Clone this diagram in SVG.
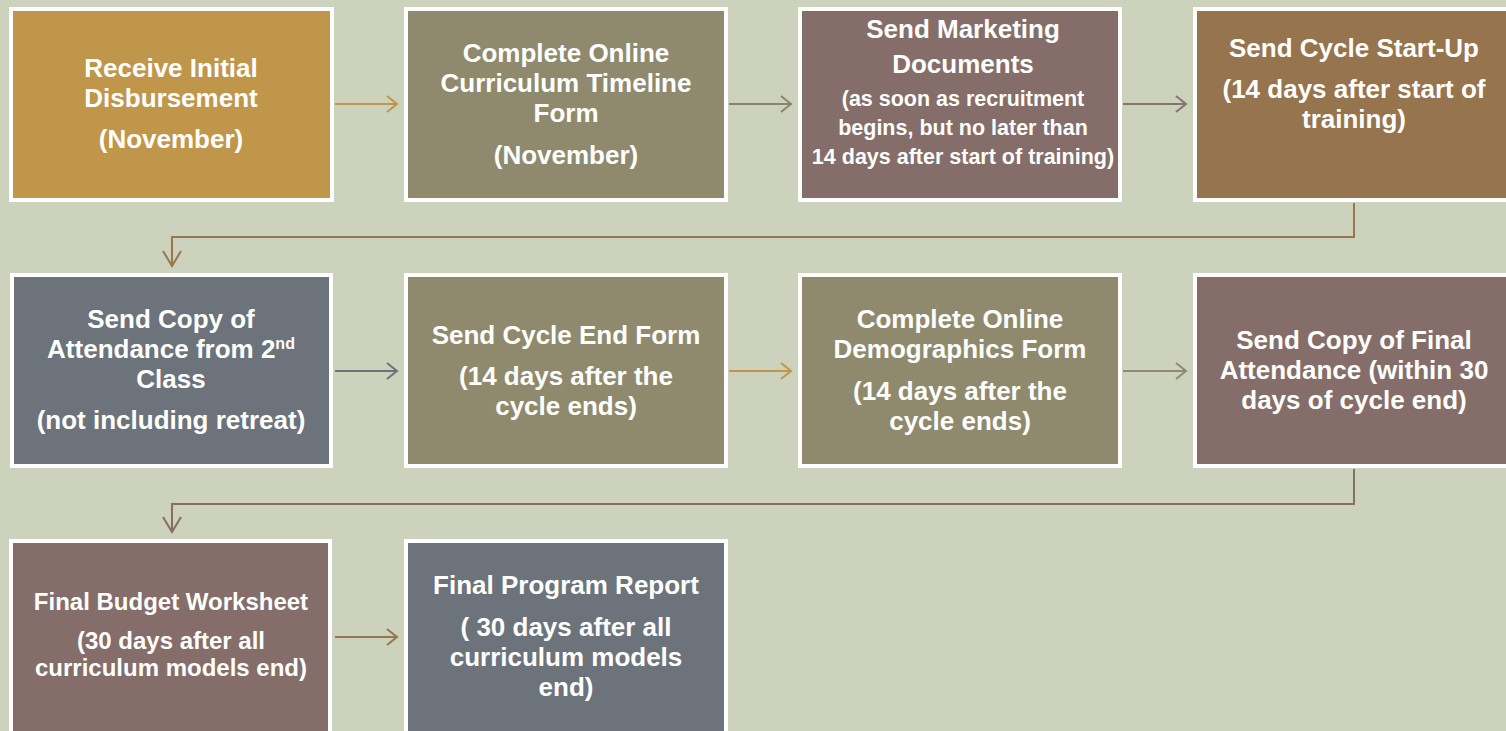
<svg xmlns="http://www.w3.org/2000/svg" width="1506" height="731" viewBox="0 0 1506 731">
<defs>
<style>
.box{stroke:#ffffff;stroke-width:4}
.t{font-family:"Liberation Sans",Arial,sans-serif;font-weight:bold;fill:#ffffff;text-anchor:middle;font-size:26px}
.s{font-size:21.5px}
.n{font-size:24px}
.c{fill:none;stroke-width:2}
</style>
</defs>
<rect width="1506" height="731" fill="#CCD2BB"/>
<g id="connectors">
<g stroke="#C0964B" class="c"><path d="M335 104H397"/><path d="M387 96L397 104L387 112"/></g>
<g stroke="#8C8270" class="c"><path d="M729 104H791"/><path d="M781 96L791 104L781 112"/></g>
<g stroke="#857470" class="c"><path d="M1123 104H1186"/><path d="M1176 96L1186 104L1176 112"/></g>
<g stroke="#987650" class="c"><path d="M1354 203V237H172V266"/><path d="M163 251L172 266L181 251"/></g>
<g stroke="#6D737A" class="c"><path d="M335 371H397"/><path d="M387 363L397 371L387 379"/></g>
<g stroke="#C0964B" class="c"><path d="M729 371H791"/><path d="M781 363L791 371L781 379"/></g>
<g stroke="#908A70" class="c"><path d="M1123 371H1186"/><path d="M1176 363L1186 371L1176 379"/></g>
<g stroke="#856E6A" class="c"><path d="M1354 469V504H172V532"/><path d="M163 517L172 532L181 517"/></g>
<g stroke="#987650" class="c"><path d="M335 637H397"/><path d="M387 629L397 637L387 645"/></g>
</g>
<g id="n1"><rect class="box" x="11" y="9" width="321" height="191" fill="#C0964B"/>
<text class="t"><tspan x="171" y="77">Receive Initial</tspan><tspan x="171" y="107">Disbursement</tspan><tspan x="171" y="148">(November)</tspan></text></g>
<g id="n2"><rect class="box" x="406" y="9" width="320" height="191" fill="#8F8A6E"/>
<text class="t"><tspan x="566" y="62">Complete Online</tspan><tspan x="566" y="92">Curriculum Timeline</tspan><tspan x="566" y="122">Form</tspan><tspan x="566" y="164">(November)</tspan></text></g>
<g id="n3"><rect class="box" x="800" y="9" width="320" height="191" fill="#856E6A"/>
<text class="t"><tspan x="963" y="38">Send Marketing</tspan><tspan x="963" y="73">Documents</tspan></text>
<text class="t s"><tspan x="963" y="106">(as soon as recruitment</tspan><tspan x="963" y="135">begins, but no later than</tspan><tspan x="963" y="164">14 days after start of training)</tspan></text></g>
<g id="n4"><rect class="box" x="1195" y="9" width="330" height="191" fill="#96744E"/>
<text class="t"><tspan x="1354" y="57">Send Cycle Start-Up</tspan><tspan x="1354" y="98">(14 days after start of</tspan><tspan x="1354" y="128">training)</tspan></text></g>
<g id="n5"><rect class="box" x="12" y="275" width="319" height="191" fill="#6D737A"/>
<text class="t"><tspan x="171" y="328">Send Copy of</tspan><tspan x="171" y="358">Attendance from 2<tspan font-size="16" dy="-9">nd</tspan></tspan><tspan x="171" y="388">Class</tspan><tspan x="171" y="429">(not including retreat)</tspan></text></g>
<g id="n6"><rect class="box" x="406" y="275" width="320" height="191" fill="#8F8A6E"/>
<text class="t"><tspan x="566" y="344">Send Cycle End Form</tspan><tspan x="566" y="385">(14 days after the</tspan><tspan x="566" y="415">cycle ends)</tspan></text></g>
<g id="n7"><rect class="box" x="800" y="275" width="320" height="191" fill="#8F8A6E"/>
<text class="t"><tspan x="960" y="328">Complete Online</tspan><tspan x="960" y="358">Demographics Form</tspan><tspan x="960" y="400">(14 days after the</tspan><tspan x="960" y="430">cycle ends)</tspan></text></g>
<g id="n8"><rect class="box" x="1195" y="275" width="330" height="191" fill="#856E6A"/>
<text class="t"><tspan x="1354" y="349">Send Copy of Final</tspan><tspan x="1354" y="379">Attendance (within 30</tspan><tspan x="1354" y="409">days of cycle end)</tspan></text></g>
<g id="n9"><rect class="box" x="11" y="541" width="319" height="200" fill="#856E6A"/>
<text class="t n"><tspan x="171" y="610">Final Budget Worksheet</tspan><tspan x="171" y="649">(30 days after all</tspan><tspan x="171" y="676">curriculum models end)</tspan></text></g>
<g id="n10"><rect class="box" x="406" y="541" width="320" height="200" fill="#6D737A"/>
<text class="t"><tspan x="566" y="594">Final Program Report</tspan><tspan x="566" y="636">( 30 days after all</tspan><tspan x="566" y="666">curriculum models</tspan><tspan x="566" y="696">end)</tspan></text></g>
</svg>
